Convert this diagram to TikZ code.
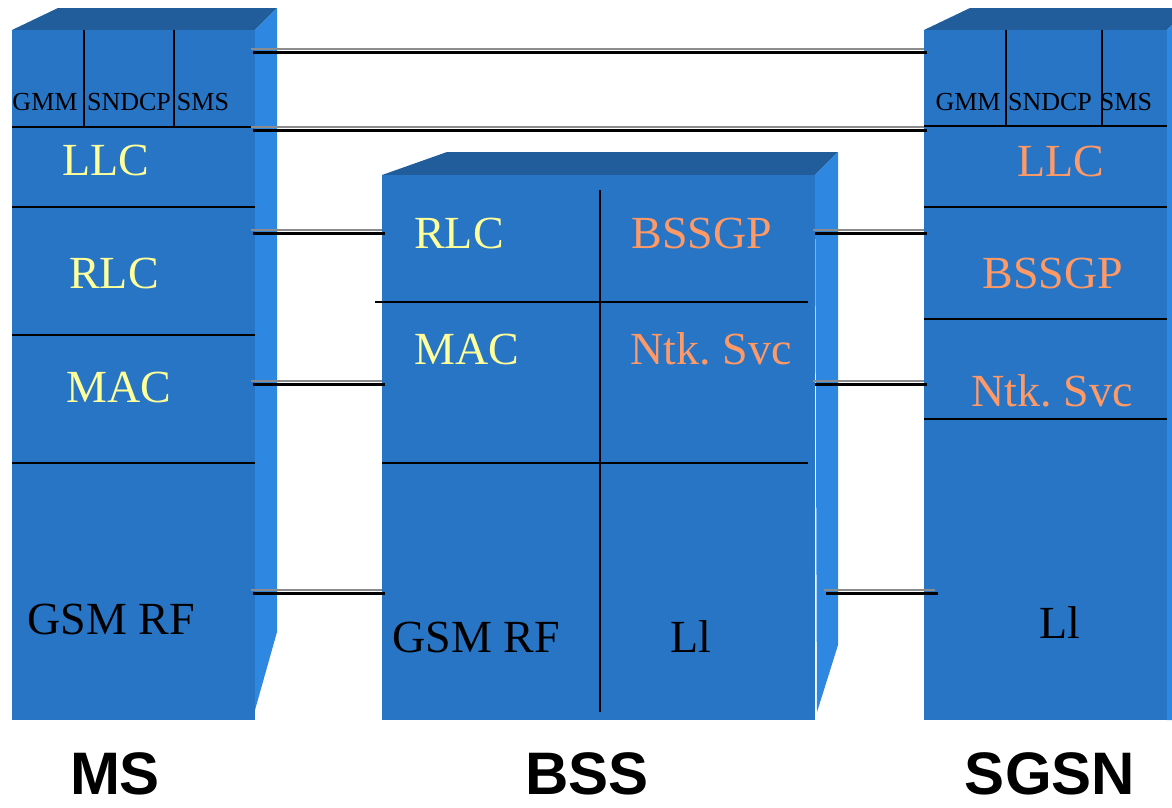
\documentclass[tikz,border=0pt]{standalone}
\usepackage{fontspec}
\setmainfont{Liberation Serif}
\newfontfamily\labelfont{Liberation Sans}
\definecolor{frontc}{RGB}{40,117,197}
\definecolor{topc}{RGB}{33,93,155}
\definecolor{sidec}{RGB}{46,136,226}
\definecolor{yel}{RGB}{255,255,153}
\definecolor{ora}{RGB}{255,153,102}
\tikzset{
  frontface/.style={fill=frontc, draw=none},
  topface/.style={fill=topc, draw=none},
  sideface/.style={fill=sidec, draw=none},
  sep/.style={draw=black, line width=2pt},
  small/.style={font=\fontsize{26}{30}\selectfont, text=black, inner sep=0pt, anchor=base},
  layer/.style={font=\fontsize{46}{52}\selectfont, inner sep=0pt, anchor=base},
  boxlabel/.style={font=\labelfont\bfseries\fontsize{60}{70}\selectfont, text=black, inner sep=0pt, anchor=base},
  linkshadow/.style={draw=black!45, line width=2pt},
  linkmain/.style={draw=black, line width=3pt},
}
\newcommand\connect[2]{%
  \draw[linkshadow] ([yshift=3pt]#1) -- ([yshift=3pt]#2);
  \draw[linkmain] ([xshift=2pt]#1) -- ([xshift=3pt]#2);}
\begin{document}
\begin{tikzpicture}[x=1pt,y=-1pt]
\useasboundingbox (0,0) rectangle (1172,807);
\clip (0,0) rectangle (1172,807);

% ---------------- MS box
\fill[topface] (12,30) -- (58,8) -- (277,8) -- (255,30) -- cycle;
\fill[sideface] (255,30) -- (277,8) -- (277,632) -- (255,710) -- cycle;
\fill[frontface] (12,30) rectangle (255,720);
\draw[sep] (84,30) -- (84,127);
\draw[sep] (174,30) -- (174,127);
\draw[sep] (12,127) -- (255,127);
\draw[sep] (12,207) -- (255,207);
\draw[sep] (12,335) -- (255,335);
\draw[sep] (12,463) -- (255,463);
\node[small] (msgmm) at (45,110) {GMM};
\node[small] (mssndcp) at (129,110) {SNDCP};
\node[small] (mssms) at (203,110) {SMS};
\node[layer, text=yel] (msllc) at (106,175) {LLC};
\node[layer, text=yel] (msrlc) at (114,288) {RLC};
\node[layer, text=yel] (msmac) at (119,402) {MAC};
\node[layer, text=black] (msrf) at (111,634) {GSM RF};

% ---------------- BSS box
\fill[topface] (382,175) -- (447,152) -- (838,152) -- (815,175) -- cycle;
\fill[sideface] (815,175) -- (838,152) -- (838,645) -- (817,712) -- cycle;
\fill[frontface] (382,175) rectangle (815,720);
\draw[sep] (600,190) -- (600,712);
\draw[sep] (375,302) -- (808,302);
\draw[sep] (382,463) -- (808,463);
\node[layer, text=yel] (bssrlc) at (459,248) {RLC};
\node[layer, text=ora] (bssbssgp) at (702,248) {BSSGP};
\node[layer, text=yel] (bssmac) at (467,364) {MAC};
\node[layer, text=ora] (bssns) at (711,364) {Ntk.\ Svc};
\node[layer, text=black] (bssrf) at (476,652) {GSM RF};
\node[layer, text=black] (bssl1) at (691,652) {Ll};

% ---------------- SGSN box
\fill[topface] (924,30) -- (970,8) -- (1190,8) -- (1167,30) -- cycle;
\fill[sideface] (1167,30) -- (1190,8) -- (1190,720) -- (1167,720) -- cycle;
\fill[frontface] (924,30) rectangle (1167,720);
\draw[sep] (1006,30) -- (1006,126);
\draw[sep] (1102,30) -- (1102,126);
\draw[sep] (924,126) -- (1167,126);
\draw[sep] (924,207) -- (1167,207);
\draw[sep] (924,319) -- (1167,319);
\draw[sep] (924,419) -- (1167,419);
\node[small] (sggmm) at (968,110) {GMM};
\node[small] (sgsndcp) at (1050,110) {SNDCP};
\node[small] (sgsms) at (1126,110) {SMS};
\node[layer, text=ora] (sgllc) at (1061,176) {LLC};
\node[layer, text=ora] (sgbssgp) at (1053,288) {BSSGP};
\node[layer, text=ora] (sgns) at (1052,406) {Ntk.\ Svc};
\node[layer, text=black] (sgl1) at (1060,638) {Ll};

% ---------------- connector end points
\coordinate (msA) at (251,52);   \coordinate (sgA) at (924,52);
\coordinate (msB) at (251,130);  \coordinate (sgB) at (924,130);
\coordinate (msC) at (251,233);  \coordinate (bsCl) at (382,233);
\coordinate (msD) at (251,384);  \coordinate (bsDl) at (382,384);
\coordinate (msE) at (251,593);  \coordinate (bsEl) at (382,593);
\coordinate (bsCr) at (813,233); \coordinate (sgC) at (924,233);
\coordinate (bsDr) at (813,384); \coordinate (sgD) at (924,384);
\coordinate (bsEr) at (824,593); \coordinate (sgE) at (935,593);
\connect{msA}{sgA}
\connect{msB}{sgB}
\connect{msC}{bsCl}
\connect{msD}{bsDl}
\connect{msE}{bsEl}
\connect{bsCr}{sgC}
\connect{bsDr}{sgD}
\connect{bsEr}{sgE}

% ---------------- labels
\node[boxlabel] (lms) at (115,794) {MS};
\node[boxlabel] (lbss) at (587,794) {BSS};
\node[boxlabel] (lsgsn) at (1050,794) {SGSN};
\end{tikzpicture}
\end{document}
